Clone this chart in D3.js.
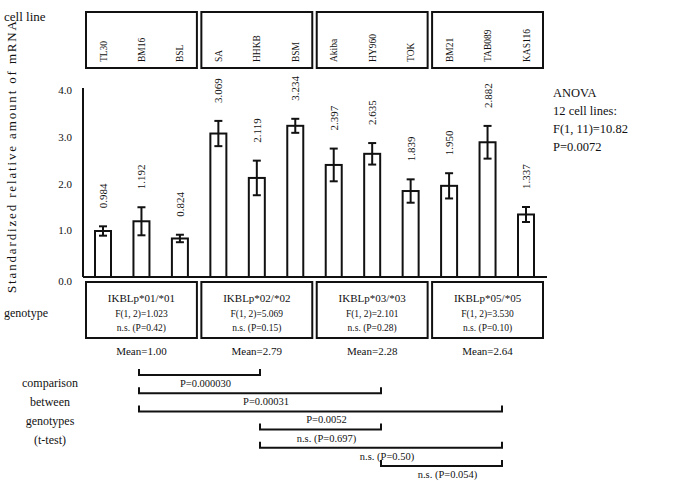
<!DOCTYPE html>
<html lang="en">
<head>
<meta charset="UTF-8">
<title>IKBL mRNA by genotype</title>
<style>
  body { margin: 0; background: #fff; }
  svg text { font-family: "Liberation Serif", "DejaVu Serif", serif; fill: #111; }
</style>
</head>
<body>
<div id="chart"></div>
<script src="https://cdnjs.cloudflare.com/ajax/libs/d3/7.8.5/d3.min.js"></script>
<script>
  // data
  const cellLines = ["TL30", "BM16", "BSL", "SA", "HHKB", "BSM", "Akiba", "HY960", "TOK", "BM21", "TAB089", "KAS116"];
  const values = [0.984, 1.192, 0.824, 3.069, 2.119, 3.234, 2.397, 2.635, 1.839, 1.950, 2.882, 1.337];
  const errors = [0.10, 0.30, 0.08, 0.27, 0.37, 0.15, 0.35, 0.23, 0.25, 0.27, 0.35, 0.16];
  const groupOf = [0, 0, 0, 1, 1, 1, 2, 2, 2, 3, 3, 3];
  const genotypes = ["IKBLp*01/*01", "IKBLp*02/*02", "IKBLp*03/*03", "IKBLp*05/*05"];
  const groupF = ["F(1, 2)=1.023", "F(1, 2)=5.069", "F(1, 2)=2.101", "F(1, 2)=3.530"];
  const groupP = ["n.s. (P=0.42)", "n.s. (P=0.15)", "n.s. (P=0.28)", "n.s. (P=0.10)"];
  const groupMeans = ["Mean=1.00", "Mean=2.79", "Mean=2.28", "Mean=2.64"];
  const yTicks = [0, 1, 2, 3, 4];
  const comparisons = [
    [0, 1, "P=0.000030"],
    [0, 2, "P=0.00031"],
    [0, 3, "P=0.0052"],
    [1, 2, "n.s. (P=0.697)"],
    [1, 3, "n.s. (P=0.50)"],
    [2, 3, "n.s. (P=0.054)"]
  ];
  const anovaLines = ["ANOVA", "12 cell lines:", "F(1, 11)=10.82", "P=0.0072"];
  const leftNotes = ["comparison", "between", "genotypes", "(t-test)"];

  const W = 674, H = 484;
  const svg = d3.select("#chart").append("svg").attr("width", W).attr("height", H);

  const x = d3.scalePoint().domain(cellLines).range([103, 526]);
  const y = d3.scaleLinear().domain([0, 4]).range([277, 90]);
  const barW = 16;
  const pad = 17;

  const groupIdx = d3.range(genotypes.length);
  const members = g => cellLines.filter((c, i) => groupOf[i] === g);
  const gLeft = g => x(members(g)[0]) - pad;
  const gRight = g => x(members(g)[members(g).length - 1]) + pad;
  const gMid = g => x(members(g)[1]);

  // y axis
  svg.append("line").attr("x1", 83).attr("x2", 83).attr("y1", y(4) - 2).attr("y2", y(0))
    .attr("stroke", "#111").attr("stroke-width", 2);
  svg.append("line").attr("x1", 83).attr("x2", 547).attr("y1", y(0)).attr("y2", y(0))
    .attr("stroke", "#111").attr("stroke-width", 2);
  svg.selectAll(".ytick").data(yTicks).enter().append("text")
    .attr("x", 72).attr("y", d => y(d) + 4 + (d === 0 ? 4 : 0))
    .attr("text-anchor", "end").attr("font-size", 11)
    .text(d => d.toFixed(1));

  svg.append("text")
    .attr("transform", "translate(16,157) rotate(-90)")
    .attr("text-anchor", "middle").attr("font-size", 13)
    .attr("textLength", 272).attr("lengthAdjust", "spacing")
    .text("Standardized relative amount of mRNA");

  // bars
  svg.selectAll(".bar").data(cellLines).enter().append("rect")
    .attr("x", d => x(d) - barW / 2)
    .attr("y", (d, i) => y(values[i]))
    .attr("width", barW)
    .attr("height", (d, i) => y(0) - y(values[i]))
    .attr("fill", "#fff").attr("stroke", "#111").attr("stroke-width", 2);

  // error bars
  const eb = svg.selectAll(".err").data(cellLines).enter().append("g");
  eb.append("line")
    .attr("x1", d => x(d)).attr("x2", d => x(d))
    .attr("y1", (d, i) => y(values[i] + errors[i]))
    .attr("y2", (d, i) => y(values[i] - errors[i]))
    .attr("stroke", "#111").attr("stroke-width", 2);
  [1, -1].forEach(s => {
    eb.append("line")
      .attr("x1", d => x(d) - 4).attr("x2", d => x(d) + 4)
      .attr("y1", (d, i) => y(values[i] + s * errors[i]))
      .attr("y2", (d, i) => y(values[i] + s * errors[i]))
      .attr("stroke", "#111").attr("stroke-width", 2);
  });

  // value labels, rotated
  svg.selectAll(".val").data(cellLines).enter().append("text")
    .attr("transform", (d, i) => `translate(${x(d) + 4},${y(values[i] + errors[i]) - 18}) rotate(-90)`)
    .attr("font-size", 11)
    .text((d, i) => values[i].toFixed(3));

  // cell line boxes on top
  svg.append("text").attr("x", 4).attr("y", 21).attr("font-size", 13).text("cell line");
  svg.selectAll(".cbox").data(groupIdx).enter().append("rect")
    .attr("x", g => gLeft(g)).attr("y", 12)
    .attr("width", g => gRight(g) - gLeft(g)).attr("height", 56)
    .attr("fill", "none").attr("stroke", "#111").attr("stroke-width", 2);
  svg.selectAll(".cname").data(cellLines).enter().append("text")
    .attr("transform", d => `translate(${x(d) + 3.5},62) rotate(-90)`)
    .attr("font-size", 9.5)
    .text(d => d);

  // genotype boxes
  svg.append("text").attr("x", 4).attr("y", 317).attr("font-size", 12).text("genotype");
  svg.selectAll(".gbox").data(groupIdx).enter().append("rect")
    .attr("x", g => gLeft(g)).attr("y", 282)
    .attr("width", g => gRight(g) - gLeft(g)).attr("height", 56)
    .attr("fill", "none").attr("stroke", "#111").attr("stroke-width", 2);
  svg.selectAll(".gname").data(groupIdx).enter().append("text")
    .attr("x", g => (gLeft(g) + gRight(g)) / 2).attr("y", 302)
    .attr("text-anchor", "middle").attr("font-size", 11)
    .text(g => genotypes[g]);
  svg.selectAll(".gf").data(groupIdx).enter().append("text")
    .attr("x", g => (gLeft(g) + gRight(g)) / 2).attr("y", 317)
    .attr("text-anchor", "middle").attr("font-size", 9.5)
    .text(g => groupF[g]);
  svg.selectAll(".gp").data(groupIdx).enter().append("text")
    .attr("x", g => (gLeft(g) + gRight(g)) / 2).attr("y", 331)
    .attr("text-anchor", "middle").attr("font-size", 9.5)
    .text(g => groupP[g]);
  svg.selectAll(".gmean").data(groupIdx).enter().append("text")
    .attr("x", g => gMid(g)).attr("y", 355)
    .attr("text-anchor", "middle").attr("font-size", 11)
    .text(g => groupMeans[g]);

  // ANOVA note
  svg.selectAll(".anova").data(anovaLines).enter().append("text")
    .attr("x", 553).attr("y", (d, i) => 97 + i * 18)
    .attr("font-size", 12.5)
    .text(d => d);

  // t-test comparison brackets
  const bx = d3.scalePoint().domain(groupIdx).range([139, 502]);
  const rowY = d3.scalePoint().domain(d3.range(comparisons.length)).range([375, 466]);
  const br = svg.selectAll(".br").data(comparisons).enter().append("g");
  br.append("path")
    .attr("d", (c, i) => `M${bx(c[0])},${rowY(i) - 6}V${rowY(i)}H${bx(c[1])}V${rowY(i) - 6}`)
    .attr("fill", "none").attr("stroke", "#111").attr("stroke-width", 2);
  br.append("text")
    .attr("x", c => (bx(c[0]) + bx(c[1])) / 2 + 6)
    .attr("y", (c, i) => rowY(i) + 12)
    .attr("text-anchor", "middle").attr("font-size", 10.5)
    .text(c => c[2]);

  svg.selectAll(".note").data(leftNotes).enter().append("text")
    .attr("x", 50).attr("y", (d, i) => 387 + i * 19)
    .attr("text-anchor", "middle").attr("font-size", 12)
    .text(d => d);
</script>
</body>
</html>
